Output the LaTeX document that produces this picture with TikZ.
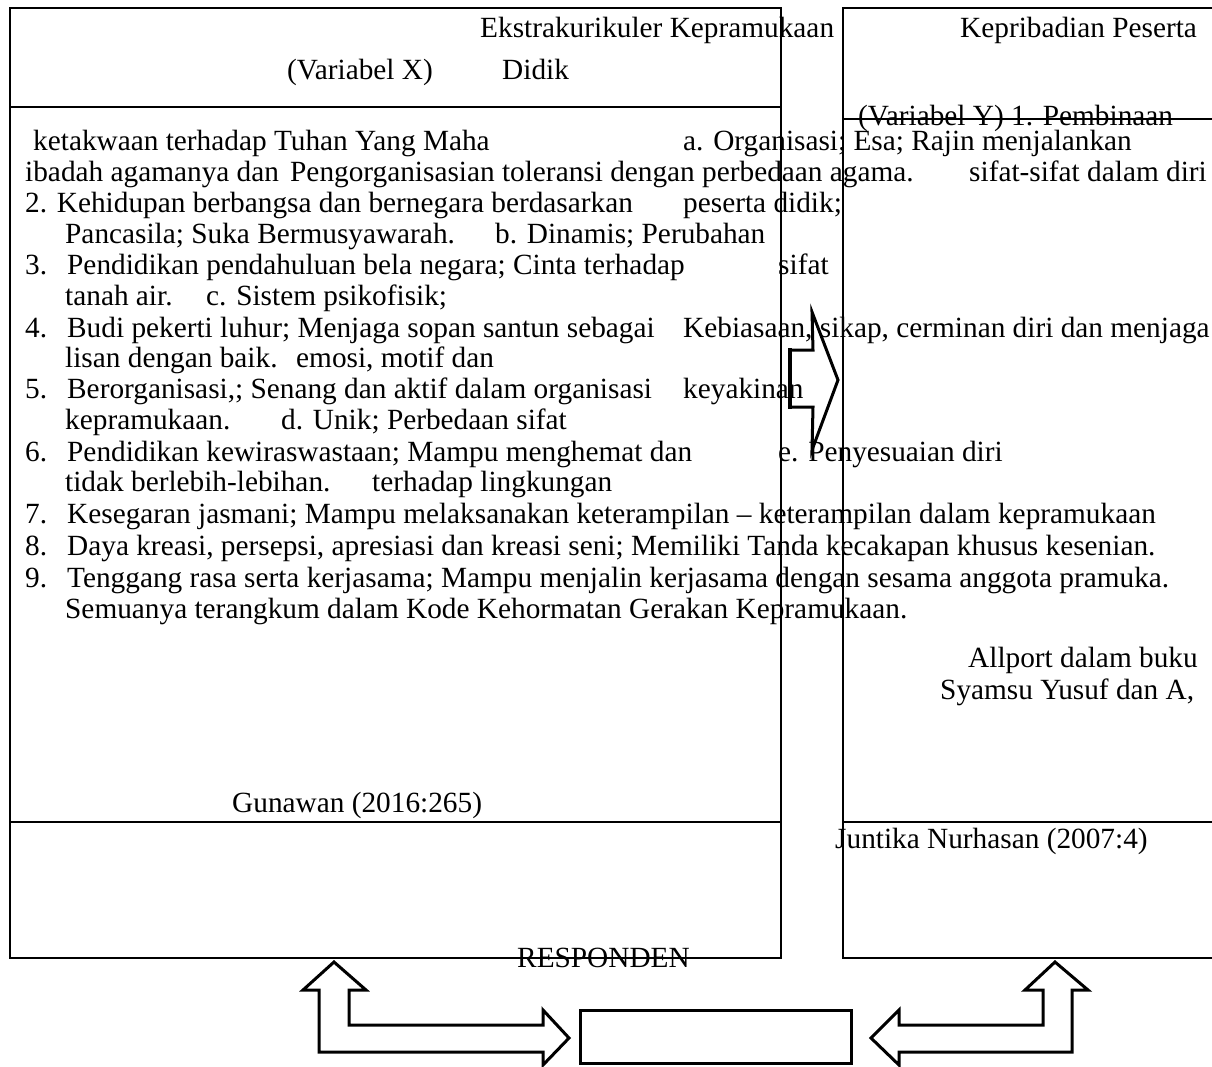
\documentclass[tikz,border=0pt]{standalone}
\usepackage{fontspec}
\setmainfont{Liberation Serif}

\tikzset{
	txt/.style={anchor=base west, inner sep=0pt, font=\fontsize{29.3}{31}\selectfont},
	frame/.style={line width=2pt},
	blockarrow/.style={line width=3pt, line join=miter},
}

\begin{document}
\begin{tikzpicture}[x=1pt, y=-1pt]
		\useasboundingbox (0,0) rectangle (1212,1066);
		% Frames of the two columns:
		\draw[frame] (10,8) -- (781,8) -- (781,958) -- (10,958) -- cycle;
		\draw[frame] (10,107) -- (781,107);
		\draw[frame] (10,822) -- (781,822);
		\draw[frame] (1212,8) -- (843,8) -- (843,958) -- (1212,958);
		\draw[frame] (843,119) -- (1212,119);
		\draw[frame] (843,822) -- (1212,822);
		% Header texts:
		\node[txt] (hdrX) at (480,37){Ekstrakurikuler Kepramukaan};
		\node[txt] (hdrY) at (960,37){Kepribadian Peserta};
		\node[txt] (varX) at (287,79){(Variabel X)};
		\node[txt] (didik) at (502,79){Didik};
		\node[txt] (varY) at (858,125){(Variabel Y) 1. Pembinaan};
		% Body texts:
		\node[txt] (ra1) at (33,150){ketakwaan terhadap Tuhan Yang Maha};
		\node[txt] (ra2) at (683,150){a. Organisasi; Esa; Rajin menjalankan};
		\node[txt] (rb1) at (25,181){ibadah agamanya dan};
		\node[txt] (rb2) at (290,181){Pengorganisasian toleransi dengan perbedaan agama.};
		\node[txt] (rb3) at (969,181){sifat-sifat dalam diri};
		\node[txt] (rc1) at (25,212){2. Kehidupan berbangsa dan bernegara berdasarkan};
		\node[txt] (rc2) at (683,212){peserta didik;};
		\node[txt] (rd1) at (65,243){Pancasila; Suka Bermusyawarah.};
		\node[txt] (rd2) at (495,243){b. Dinamis; Perubahan};
		\node[txt] (re0) at (25,274){3.};
		\node[txt] (re1) at (67,274){Pendidikan pendahuluan bela negara; Cinta terhadap};
		\node[txt] (re2) at (778,274){sifat};
		\node[txt] (rf1) at (65,305){tanah air.};
		\node[txt] (rf2) at (206,305){c. Sistem psikofisik;};
		\node[txt] (rg0) at (25,337){4.};
		\node[txt] (rg1) at (67,337){Budi pekerti luhur; Menjaga sopan santun sebagai};
		\node[txt] (rg2) at (683,337){Kebiasaan, sikap, cerminan diri dan menjaga};
		\node[txt] (rh1) at (65,367){lisan dengan baik.};
		\node[txt] (rh2) at (296,367){emosi, motif dan};
		\node[txt] (ri0) at (25,398){5.};
		\node[txt] (ri1) at (67,398){Berorganisasi,; Senang dan aktif dalam organisasi};
		\node[txt] (ri2) at (683,398){keyakinan};
		\node[txt] (rj1) at (65,429){kepramukaan.};
		\node[txt] (rj2) at (281,429){d. Unik; Perbedaan sifat};
		\node[txt] (rk0) at (25,461){6.};
		\node[txt] (rk1) at (67,461){Pendidikan kewiraswastaan; Mampu menghemat dan};
		\node[txt] (rk2) at (778,461){e. Penyesuaian diri};
		\node[txt] (rl1) at (65,491){tidak berlebih-lebihan.};
		\node[txt] (rl2) at (372,491){terhadap lingkungan};
		\node[txt] (rm0) at (25,523){7.};
		\node[txt] (rm1) at (67,523){Kesegaran jasmani; Mampu melaksanakan keterampilan -- keterampilan dalam kepramukaan};
		\node[txt] (rn0) at (25,555){8.};
		\node[txt] (rn1) at (67,555){Daya kreasi, persepsi, apresiasi dan kreasi seni; Memiliki Tanda kecakapan khusus kesenian.};
		\node[txt] (ro0) at (25,587){9.};
		\node[txt] (ro1) at (67,587){Tenggang rasa serta kerjasama; Mampu menjalin kerjasama dengan sesama anggota pramuka.};
		\node[txt] (rp1) at (65,618){Semuanya terangkum dalam Kode Kehormatan Gerakan Kepramukaan.};
		% Sources:
		\node[txt] (srcY1) at (968,667){Allport dalam buku};
		\node[txt] (srcY2) at (940,699){Syamsu Yusuf dan A,};
		\node[txt] (srcX) at (232,812){Gunawan (2016:265)};
		\node[txt] (srcY3) at (835,848){Juntika Nurhasan (2007:4)};
		\node[txt] (resp) at (517,967){RESPONDEN};
		% Block arrows:
		\draw[blockarrow] (790,350) -- (813,350) -- (812,312) -- (838,380) -- (812,450) -- (813,407) -- (790,407) -- cycle;
		\draw[line width=4.5pt] (790,348) -- (790,409);
		\draw[blockarrow] (334,962) -- (366,990) -- (349,990) -- (349,1025) -- (543,1025) -- (543,1010) -- (569,1038) -- (543,1065) -- (543,1052) -- (319,1052) -- (319,990) -- (303,990) -- cycle;
		\draw[blockarrow] (1055,962) -- (1088,990) -- (1072,990) -- (1072,1052) -- (899,1052) -- (899,1065) -- (871,1038) -- (899,1010) -- (899,1025) -- (1043,1025) -- (1043,990) -- (1025,990) -- cycle;
		\node[draw, line width=3.5pt, minimum width=271pt, minimum height=53pt, inner sep=0pt] (respbox) at (716,1037){};
	\end{tikzpicture}
\end{document}
